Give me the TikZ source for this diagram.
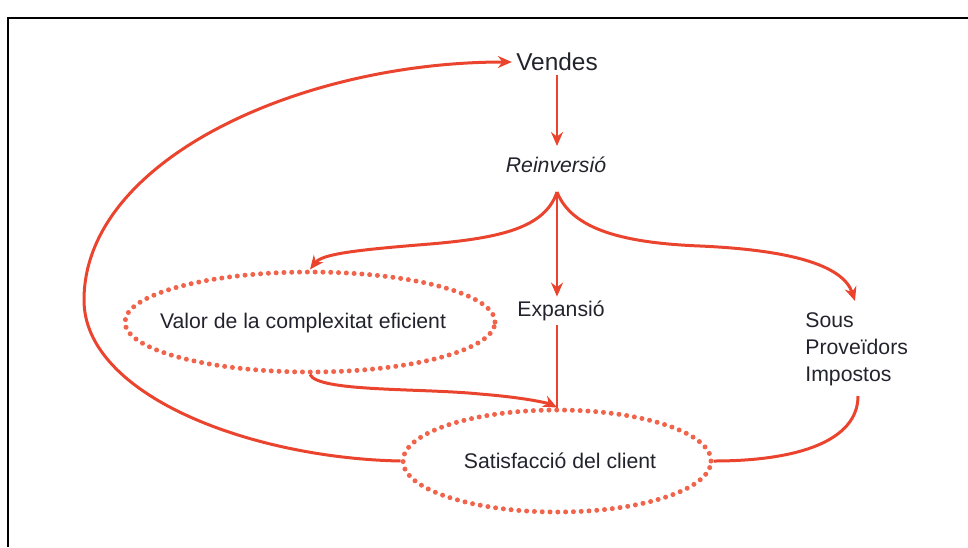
\documentclass[tikz,border=0pt]{standalone}
\usepackage{fontspec}
\setmainfont{Liberation Sans}
\usepackage{tikz}
\usetikzlibrary{shapes.geometric}
\usetikzlibrary{arrows.meta}
\definecolor{flowred}{RGB}{234,68,46}
\definecolor{dotred}{RGB}{240,100,76}
\definecolor{inkgray}{RGB}{35,35,45}
\tikzstyle{flow}=[->, >={Stealth[length=7pt,width=6pt]}, draw=flowred, line width=1.5pt]
\tikzstyle{plain}=[draw=flowred, line width=1.5pt]
\tikzstyle{dotellipse}=[ellipse, draw=dotred, line width=2.5pt, dash pattern=on 0pt off 3.9pt, line cap=round, inner sep=0pt]
\tikzstyle{label}=[text=inkgray, font=\fontsize{10.6}{13.5}\selectfont, inner sep=2pt]

\begin{document}
\begin{tikzpicture}[x=0.5pt, y=-0.5pt]
      \useasboundingbox (0,0) rectangle (968,547);
      \draw [line width=1pt] (8,547) -- (8,18) -- (968,18);

      \node [label, font=\fontsize{12.2}{14}\selectfont] (vendes) at (557,62) {Vendes};
      \node [label, font=\fontsize{10.6}{13}\selectfont\itshape] (reinv) at (556,165) {Reinversió};

      \node [dotellipse, minimum width=185pt, minimum height=50pt] (valorbox) at (310,322) {};
      \node [label] (valor) at (303,323) {Valor de la complexitat eficient};
      \node [label] (expansio) at (561,311) {Expansió};
      \node [label, align=left, anchor=west] (sous) at (801,349) {Sous\\Proveïdors\\Impostos};

      \node [dotellipse, minimum width=154pt, minimum height=51pt] (satisbox) at (557,461) {};
      \node [label] (satis) at (560,461) {Satisfacció del client};

      \coordinate (fork) at (557,192);

      \draw [flow, line width=1.2pt] (vendes.south -| fork) -- (557,146);
      \draw [flow] (fork) .. controls (545,228) and (500,238) .. (430,244)
            .. controls (355,250) and (322,254) .. (valorbox.north);
      \draw [flow, line width=1.2pt] (fork) -- (fork |- expansio.north);
      \draw [flow] (fork) .. controls (572,230) and (625,243) .. (700,246)
            .. controls (790,250) and (843,265) .. (855,301);

      \draw [plain, line width=1.2pt] (fork |- expansio.south) -- (satisbox.north);
      \draw [flow] (valorbox.south) .. controls (318,392) and (420,388) .. (480,394)
            .. controls (530,398) and (550,404) .. (satisbox.north);
      \draw [plain] (858,396) .. controls (858,440) and (800,461) .. (satisbox.east);

      \draw [flow] (satisbox.west) .. controls (250,458) and (84,395) .. (84,300)
            .. controls (84,160) and (300,62) .. (vendes.west);
    \end{tikzpicture}
\end{document}
